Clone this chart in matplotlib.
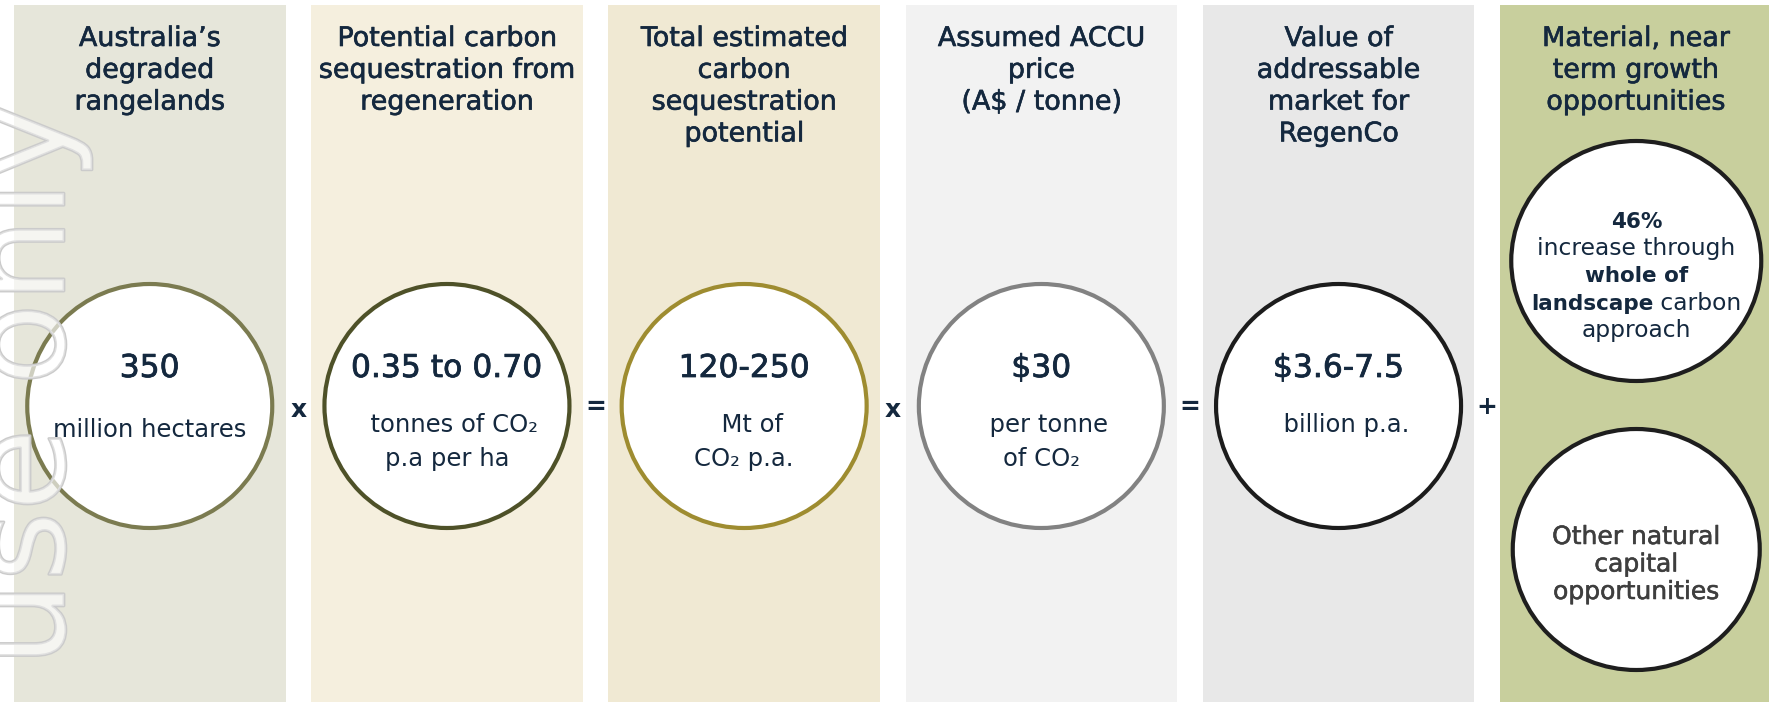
import matplotlib
matplotlib.use("Agg")
import matplotlib.pyplot as plt
from matplotlib.patches import Rectangle, Ellipse
import matplotlib.patheffects as pe

# --- content -------------------------------------------------------------
titles = [
    ["Australia’s", "degraded", "rangelands"],
    ["Potential carbon", "sequestration from", "regeneration"],
    ["Total estimated", "carbon", "sequestration", "potential"],
    ["Assumed ACCU", "price", "(A$ / tonne)"],
    ["Value of", "addressable", "market for", "RegenCo"],
    ["Material, near", "term growth", "opportunities"],
]
values = ["350", "0.35 to 0.70", "120-250", "$30", "$3.6-7.5"]
units = [
    ["million hectares"],
    ["  tonnes of CO₂", "p.a per ha"],
    ["  Mt of", "CO₂ p.a."],
    ["  per tonne", "of CO₂"],
    ["  billion p.a."],
]
operators = ["x", "=", "x", "=", "+"]
growth_lines = [
    [("46%", True)],
    [("increase through", False)],
    [("whole of", True)],
    [("landscape", True), (" carbon", False)],
    [("approach", False)],
]
other_lines = ["Other natural", "capital", "opportunities"]
watermark = "use only"

panel_colors = ["#e6e6da", "#f5efde", "#f0e9d3", "#f2f2f2", "#e8e8e8", "#c8cf9d"]
ring_colors = ["#7b7b50", "#4e5128", "#9e8c30", "#828282", "#1c1c1c"]
navy = "#14283e"

plt.rcParams["font.family"] = ["DejaVu Sans"]

fig = plt.figure(figsize=(17.69, 7.02), dpi=100)
ax = fig.add_axes([0, 0, 1, 1])
ax.set_xlim(0, 1769)
ax.set_ylim(702, 0)
ax.axis("off")

left0, pitch, pw = 14, 297.2, 271.5


def medium(col, w=0.45):
    # thicken DejaVu regular a little, closer to a medium weight
    return [pe.withStroke(linewidth=w, foreground=col)]


def lines_at(x, y0, lines, dy, **kw):
    for i, s in enumerate(lines):
        ax.text(x, y0 + i * dy, s, ha="center", va="baseline", **kw)


for i, col in enumerate(panel_colors):
    x0 = left0 + i * pitch
    ax.add_patch(Rectangle((x0, 5), pw, 720, facecolor=col, edgecolor="none", zorder=1))
    lines_at(x0 + pw / 2, 46, titles[i], 31.8, fontsize=19.4, color=navy,
             zorder=5, path_effects=medium(navy))

# main circles
for i, v in enumerate(values):
    cx = left0 + i * pitch + pw / 2
    ax.add_patch(Ellipse((cx, 406), 245, 244, facecolor="white",
                         edgecolor=ring_colors[i], linewidth=3, zorder=3))
    ax.text(cx, 377, v, ha="center", va="baseline", fontsize=22.6,
            color=navy, zorder=5, path_effects=medium(navy, 0.55))
    y0 = 437 if i == 0 else 432
    lines_at(cx, y0, units[i], 34, fontsize=17.5, color=navy, zorder=5)

# operators between panels
for i, op in enumerate(operators):
    ox = left0 + (i + 1) * pitch - (pitch - pw) / 2
    oy = 410 if op == "x" else 407.5
    ax.text(ox, oy, op, ha="center", va="center", fontsize=18,
            fontweight="bold", color=navy, zorder=5)

# growth opportunity circles
gx = left0 + 5 * pitch + pw / 2 + 0.5
ax.add_patch(Ellipse((gx, 261), 250, 240, facecolor="white",
                     edgecolor="#1e1e1e", linewidth=3, zorder=3))
ax.add_patch(Ellipse((gx, 549.5), 247, 241, facecolor="white",
                     edgecolor="#1e1e1e", linewidth=3, zorder=3))

fig.canvas.draw()
renderer = fig.canvas.get_renderer()
for k, segs in enumerate(growth_lines):
    y = 228 + k * 27.2
    parts = []
    for s, bold in segs:
        t = ax.text(0, y, s, ha="left", va="baseline",
                    fontsize=15.5 if bold else 16.8,
                    fontweight="bold" if bold else "normal",
                    color=navy, zorder=5)
        parts.append((t, t.get_window_extent(renderer=renderer).width))
    total = sum(w for _, w in parts)
    xx = gx - total / 2
    for t, w in parts:
        t.set_x(xx)
        xx += w

lines_at(gx, 544, other_lines, 27.5, fontsize=18, color="#3e3e3e", zorder=5,
         path_effects=medium("#3e3e3e", 0.4))

# watermark
ax.text(64, 667, watermark, rotation=90, rotation_mode="anchor", ha="left",
        va="baseline", fontsize=97, color=(1, 1, 1, 0.4), zorder=10,
        path_effects=[pe.withStroke(linewidth=2, foreground="#cbcbcb")])

fig.savefig("out.png", dpi=100)
